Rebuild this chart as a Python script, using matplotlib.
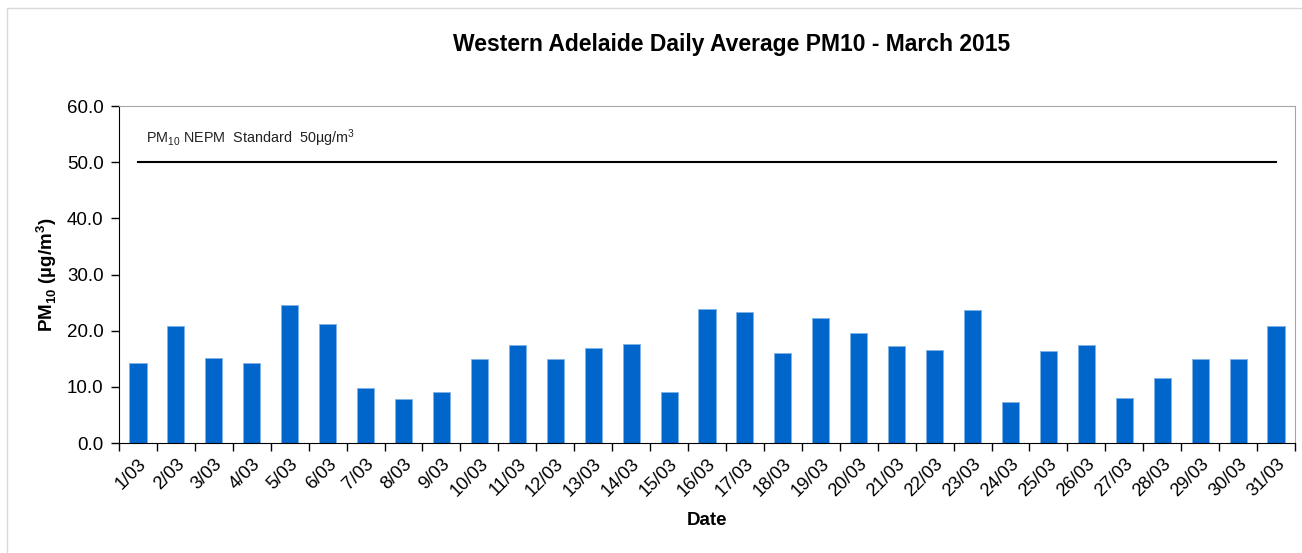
import numpy as np
import matplotlib
matplotlib.use("Agg")
import matplotlib.pyplot as plt
from matplotlib.patches import Rectangle

plt.rcParams["font.family"] = ["Liberation Sans", "DejaVu Sans"]
plt.rcParams["mathtext.fontset"] = "custom"
plt.rcParams["mathtext.rm"] = "Liberation Sans"
plt.rcParams["mathtext.bf"] = "Liberation Sans:bold"

# daily averages
days = [f"{d}/03" for d in range(1, 32)]
pm10 = [14.2, 20.9, 15.1, 14.2, 24.5, 21.2, 9.8, 7.9, 9.0, 14.9,
        17.5, 14.9, 16.9, 17.7, 9.1, 23.8, 23.3, 16.0, 22.3, 19.6,
        17.2, 16.5, 23.6, 7.3, 16.4, 17.5, 8.0, 11.6, 14.9, 14.9, 20.9]
standard = 50.0

fig = plt.figure(figsize=(13.02, 5.53), dpi=100)
fig.patches.append(Rectangle((7 / 1302, -0.1), 1.2, (553 - 8) / 553 + 0.1,
                             transform=fig.transFigure, fill=False,
                             edgecolor="#d9d9d9", linewidth=1))
ax = fig.add_axes([119 / 1302, 110 / 553, 1176 / 1302, 337 / 553])

x = np.arange(len(days))
ax.bar(x, pm10, width=0.45, color="#0066cc", edgecolor="#7fb2e5", linewidth=0.6, zorder=2)
ax.plot([x[0], x[-1]], [standard, standard], color="black", linewidth=1.5, zorder=3)
ax.text(0.2, standard + 2.3, r"PM$_{10}$ NEPM  Standard  50µg/m$^{3}$", fontsize=10.4,
        color="#222222", va="bottom", ha="left")

ax.set_xlim(-0.5, len(days) - 0.5)
ax.set_ylim(0, 60)
ax.set_yticks(np.arange(0, 61, 10))
ax.set_yticklabels([f"{v:.1f}" for v in np.arange(0, 61, 10)], fontsize=13.5)

ax.set_xticks(np.arange(-0.5, len(days), 1.0))
ax.set_xticklabels([])
ax.set_xticks(x, minor=True)
ax.set_xticklabels(days, minor=True, rotation=45, ha="right", rotation_mode="anchor", fontsize=13.2)
ax.tick_params(axis="x", which="major", direction="out", length=6, width=1)
ax.tick_params(axis="x", which="minor", length=0, pad=9)
ax.tick_params(axis="y", direction="out", length=6, width=1, pad=5)

for side in ["top", "right"]:
    ax.spines[side].set_color("#a6a6a6")
for side in ["left", "bottom"]:
    ax.spines[side].set_color("black")

ax.set_ylabel(r"PM$_{\mathbf{10}}$ (µg/m$^{\mathbf{3}}$)", fontsize=13.5, fontweight="bold", labelpad=6)
ax.set_xlabel("Date", fontsize=13.5, fontweight="bold", labelpad=9)
fig.text(732 / 1302, 1 - 45 / 553, "Western Adelaide Daily Average PM10 - March 2015",
         fontsize=16.5, fontweight="bold", ha="center", va="center")

fig.savefig("out.png", dpi=100)
